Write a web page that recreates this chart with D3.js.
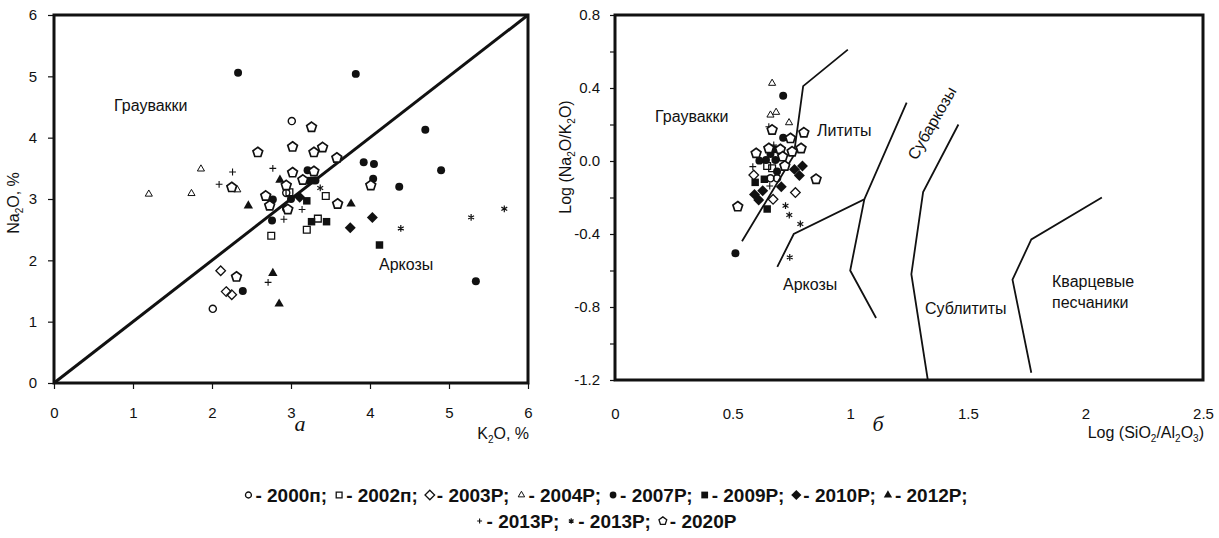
<!DOCTYPE html>
<html lang="ru">
<head>
<meta charset="UTF-8">
<title>Na2O–K2O и Log-диаграммы</title>
<script src="https://d3js.org/d3.v7.min.js"></script>
<style>
  body { margin: 0; background: #fff; }
  svg text { font-family: "Liberation Sans", Arial, sans-serif; fill: #111; }
</style>
</head>
<body>
<svg id="chart" width="1219" height="538"></svg>
<script>
// ---- series names (legend order) ----
const seriesNames = ["2000п", "2002п", "2003Р", "2004Р", "2007Р", "2009Р", "2010Р", "2012Р", "2013Р", "2013Р", "2020Р"];

// ---- panel а: K2O (x), Na2O (y), % ----
const a2000p = [[3.01, 4.27], [2.01, 1.21], [2.94, 3.10], [2.94, 2.84]];
const a2002p = [[2.98, 3.11], [3.44, 3.05], [3.34, 2.68], [3.20, 2.50], [2.75, 2.40]];
const a2003 = [[2.11, 1.83], [2.18, 1.49], [2.25, 1.44]];
const a2004 = [[1.20, 3.08], [1.74, 3.09], [1.86, 3.49], [2.32, 3.15]];
const a2007 = [[2.33, 5.06], [3.82, 5.04], [4.70, 4.13], [3.92, 3.60], [4.05, 3.57], [4.90, 3.47], [3.21, 3.47],
               [4.04, 3.33], [4.37, 3.20], [2.77, 2.99], [3.00, 3.00], [2.76, 2.65], [2.39, 1.50], [5.34, 1.66], [3.31, 3.30]];
const a2009 = [[3.25, 3.30], [3.20, 2.97], [3.26, 2.63], [3.45, 2.63], [4.12, 2.25]];
const a2010 = [[3.11, 3.03], [4.03, 2.70], [3.75, 2.53]];
const a2012 = [[2.86, 3.31], [2.46, 2.89], [3.76, 2.92], [2.77, 1.79], [2.85, 1.29]];
const a2013plus = [[2.26, 3.44], [2.77, 3.50], [2.09, 3.24], [3.14, 2.83], [2.91, 2.67], [2.71, 1.64]];
const a2013star = [[3.37, 3.18], [4.39, 2.52], [5.28, 2.70], [5.70, 2.84]];
const a2020 = [[3.26, 4.17], [2.58, 3.76], [3.02, 3.85], [3.29, 3.76], [3.40, 3.84], [3.58, 3.67], [3.02, 3.43],
               [3.29, 3.45], [3.15, 3.31], [2.94, 3.22], [2.25, 3.19], [2.68, 3.05], [2.73, 2.89], [2.96, 2.83],
               [3.59, 2.92], [4.01, 3.22], [2.31, 1.73]];
const aBoundary = [[0, 0], [6, 6]];

// ---- panel б: Log(SiO2/Al2O3) (x), Log(Na2O/K2O) (y) ----
const b2000p = [[0.661, -0.095], [0.689, -0.095]];
const b2002p = [[0.647, -0.027], [0.668, -0.040]];
const b2003 = [[0.590, -0.077], [0.672, -0.210], [0.767, -0.173]];
const b2004 = [[0.668, 0.426], [0.661, 0.252], [0.685, 0.267], [0.740, 0.210]];
const b2007 = [[0.715, 0.358], [0.715, 0.128], [0.678, 0.064], [0.614, 0.002], [0.642, 0.005], [0.661, 0.038],
               [0.682, 0.005], [0.689, -0.058], [0.512, -0.506]];
const b2009 = [[0.596, -0.117], [0.635, -0.100], [0.647, -0.263]];
const b2010 = [[0.763, -0.046], [0.797, -0.027], [0.784, -0.080], [0.707, -0.141], [0.593, -0.183], [0.628, -0.163], [0.611, -0.214]];
const b2012 = [];
const b2013plus = [[0.654, 0.188], [0.675, 0.088], [0.586, -0.031], [0.658, -0.137]];
const b2013star = [[0.725, -0.245], [0.741, -0.296], [0.788, -0.345], [0.743, -0.528]];
const b2020 = [[0.668, 0.170], [0.746, 0.124], [0.803, 0.155], [0.654, 0.069], [0.703, 0.064], [0.753, 0.051],
               [0.791, 0.069], [0.600, 0.042], [0.713, 0.024], [0.722, -0.027], [0.855, -0.100], [0.522, -0.250]];

// field boundaries
const bLine1 = [[0.54, -0.44], [0.76, 0.03], [0.80, 0.41], [0.99, 0.61]];
const bLine2 = [[0.69, -0.58], [0.76, -0.40], [1.06, -0.21], [1.24, 0.32]];
const bLine3 = [[1.06, -0.21], [1.00, -0.60], [1.11, -0.86]];
const bLine4 = [[1.46, 0.20], [1.31, -0.17], [1.26, -0.62], [1.33, -1.20]];
const bLine5 = [[2.07, -0.20], [1.77, -0.43], [1.69, -0.65], [1.77, -1.16]];

// ---- ticks ----
const xTicksA = [0, 1, 2, 3, 4, 5, 6];
const yTicksA = [0, 1, 2, 3, 4, 5, 6];
const xTicksB = [0, 0.5, 1, 1.5, 2, 2.5];
const xLabelsB = ["0", "0.5", "1", "1.5", "2", "2.5"];
const yTicksB = [-1.2, -1.0, -0.8, -0.6, -0.4, -0.2, 0, 0.2, 0.4, 0.6, 0.8];
const yLabelsB = [-1.2, -0.8, -0.4, 0, 0.4, 0.8];

const seriesA = [a2000p, a2002p, a2003, a2004, a2007, a2009, a2010, a2012, a2013plus, a2013star, a2020];
const seriesB = [b2000p, b2002p, b2003, b2004, b2007, b2009, b2010, b2012, b2013plus, b2013star, b2020];

// ---- custom symbol shapes ----
const symDiamond = { draw(ctx, size) {
  const r = Math.sqrt(size / 2);
  ctx.moveTo(0, -r); ctx.lineTo(r, 0); ctx.lineTo(0, r); ctx.lineTo(-r, 0); ctx.closePath();
} };
const symPentagon = { draw(ctx, size) {
  const r = Math.sqrt(size / 2.378);
  for (let i = 0; i < 5; i++) {
    const a = -Math.PI / 2 + i * 2 * Math.PI / 5;
    if (i) ctx.lineTo(r * Math.cos(a), r * Math.sin(a)); else ctx.moveTo(r * Math.cos(a), r * Math.sin(a));
  }
  ctx.closePath();
} };
const symPlus = { draw(ctx, size) {
  const r = Math.sqrt(size) / 2;
  ctx.moveTo(-r, 0); ctx.lineTo(r, 0); ctx.moveTo(0, -r); ctx.lineTo(0, r);
} };
const symStar = { draw(ctx, size) {
  const r = Math.sqrt(size) / 2;
  for (let i = 0; i < 3; i++) {
    const a = Math.PI / 2 + i * Math.PI / 3;
    ctx.moveTo(r * Math.cos(a), r * Math.sin(a)); ctx.lineTo(-r * Math.cos(a), -r * Math.sin(a));
  }
} };

const markerStyles = [
  { type: d3.symbolCircle, size: 40, fill: "none", sw: 1.4 },
  { type: d3.symbolSquare, size: 46, fill: "none", sw: 1.3 },
  { type: symDiamond, size: 46, fill: "none", sw: 1.3 },
  { type: d3.symbolTriangle, size: 22, fill: "none", sw: 1.0 },
  { type: d3.symbolCircle, size: 50, fill: "#111", sw: 0 },
  { type: d3.symbolSquare, size: 56, fill: "#111", sw: 0 },
  { type: symDiamond, size: 60, fill: "#111", sw: 0 },
  { type: d3.symbolTriangle, size: 38, fill: "#111", sw: 0 },
  { type: symPlus, size: 46, fill: "none", sw: 1.1 },
  { type: symStar, size: 46, fill: "none", sw: 1.2 },
  { type: symPentagon, size: 62, fill: "#fff", sw: 1.7 }
];

const svg = d3.select("#chart");

function drawPanel(x, y, series, lines, lineWidth) {
  const g = svg.append("g");
  const line = d3.line().x(d => x(d[0])).y(d => y(d[1]));
  lines.forEach(l => g.append("path").attr("d", line(l))
    .attr("fill", "none").attr("stroke", "#111").attr("stroke-width", lineWidth));
  series.forEach((pts, i) => {
    const st = markerStyles[i];
    g.selectAll(null).data(pts).enter().append("path")
      .attr("d", d3.symbol(st.type, st.size))
      .attr("transform", d => `translate(${x(d[0])},${y(d[1])})`)
      .attr("fill", st.fill)
      .attr("stroke", st.sw ? "#111" : "none")
      .attr("stroke-width", st.sw);
  });
  const [x0, x1] = x.range(), [y0, y1] = y.range();
  g.append("rect").attr("x", x0).attr("y", y1).attr("width", x1 - x0).attr("height", y0 - y1)
    .attr("fill", "none").attr("stroke", "#111").attr("stroke-width", 3);
  return g;
}

function styleAxis(g) {
  g.select(".domain").remove();
  g.selectAll(".tick line").attr("stroke", "#111").attr("stroke-width", 1.2);
  g.selectAll(".tick text").attr("font-size", 15).attr("fill", "#111")
    .attr("font-family", '"Liberation Sans", Arial, sans-serif');
}

// ---- panel а ----
const xA = d3.scaleLinear().domain([0, 6]).range([54, 528]);
const yA = d3.scaleLinear().domain([0, 6]).range([383, 15]);
drawPanel(xA, yA, seriesA, [aBoundary], 3);

svg.append("g").attr("transform", `translate(0,${yA(0)})`)
  .call(d3.axisBottom(xA).tickValues(xTicksA).tickSize(6).tickPadding(18).tickFormat(d3.format("d")))
  .call(styleAxis);
svg.append("g").attr("transform", `translate(${xA(0)},0)`)
  .call(d3.axisLeft(yA).tickValues(yTicksA).tickSize(6).tickPadding(11).tickFormat(d3.format("d")))
  .call(styleAxis);

// ---- panel б ----
const xB = d3.scaleLinear().domain([0, 2.5]).range([615, 1203]);
const yB = d3.scaleLinear().domain([-1.2, 0.8]).range([380, 15]);
drawPanel(xB, yB, seriesB, [bLine1, bLine2, bLine3, bLine4, bLine5], 1.8);

svg.append("g").attr("transform", `translate(0,${yB(-1.2)})`)
  .call(d3.axisBottom(xB).tickValues(xTicksB).tickSize(0).tickPadding(28)
    .tickFormat((d, i) => xLabelsB[i]))
  .call(styleAxis);
svg.append("g").attr("transform", `translate(${xB(0)},0)`)
  .call(d3.axisLeft(yB).tickValues(yTicksB).tickSize(5).tickPadding(10)
    .tickFormat(d => yLabelsB.some(v => Math.abs(v - d) < 1e-9) ? d.toFixed(1) : ""))
  .call(styleAxis);

// ---- field names ----
const fieldLabels = [
  { text: "Граувакки", x: 114, y: 111 },
  { text: "Аркозы", x: 379, y: 270 },
  { text: "Граувакки", x: 655, y: 122 },
  { text: "Лититы", x: 817, y: 136 },
  { text: "Аркозы", x: 783, y: 290 },
  { text: "Сублититы", x: 925, y: 314 },
  { text: "Кварцевые", x: 1052, y: 287 },
  { text: "песчаники", x: 1052, y: 308 }
];
svg.selectAll(null).data(fieldLabels).enter().append("text")
  .attr("x", d => d.x).attr("y", d => d.y).attr("font-size", 16).text(d => d.text);
svg.append("text").attr("transform", "translate(932,123) rotate(-60)")
  .attr("text-anchor", "middle").attr("dy", "0.35em").attr("font-size", 16).text("Субаркозы");

// ---- axis titles with subscripts ----
function subText(sel, parts) {
  parts.forEach(p => {
    if (p.sub) sel.append("tspan").attr("font-size", 10).attr("dy", 4).text(p.t);
    else sel.append("tspan").attr("dy", p.back ? -4 : 0).text(p.t);
  });
  return sel;
}
subText(svg.append("text").attr("transform", "translate(19,203) rotate(-90)")
  .attr("text-anchor", "middle").attr("font-size", 16),
  [{ t: "Na" }, { t: "2", sub: true }, { t: "O, %", back: true }]);
subText(svg.append("text").attr("x", 529).attr("y", 439).attr("text-anchor", "end").attr("font-size", 16),
  [{ t: "K" }, { t: "2", sub: true }, { t: "O, %", back: true }]);
subText(svg.append("text").attr("transform", "translate(571,157) rotate(-90)")
  .attr("text-anchor", "middle").attr("font-size", 16),
  [{ t: "Log (Na" }, { t: "2", sub: true }, { t: "O/K", back: true }, { t: "2", sub: true }, { t: "O)", back: true }]);
subText(svg.append("text").attr("x", 1204).attr("y", 438).attr("text-anchor", "end").attr("font-size", 16),
  [{ t: "Log (SiO" }, { t: "2", sub: true }, { t: "/Al", back: true }, { t: "2", sub: true }, { t: "O", back: true },
   { t: "3", sub: true }, { t: ")", back: true }]);

// panel captions
svg.selectAll(null).data([{ t: "а", x: 300 }, { t: "б", x: 878 }]).enter().append("text")
  .attr("x", d => d.x).attr("y", 431).attr("text-anchor", "middle")
  .style("font-family", '"Liberation Serif", "Times New Roman", serif')
  .attr("font-style", "italic").attr("font-size", 22).text(d => d.t);

// ---- legend ----
const legendSizes = [28, 34, 46, 18, 36, 46, 52, 30, 24, 30, 40];
const legendRows = [[0, 1, 2, 3, 4, 5, 6, 7], [8, 9, 10]];
const legendBase = [502, 528];
legendRows.forEach((row, r) => {
  const g = svg.append("g");
  let x = 0;
  row.forEach((i, k) => {
    const st = markerStyles[i];
    g.append("path").attr("d", d3.symbol(st.type, legendSizes[i])())
      .attr("transform", `translate(${x + 5},${legendBase[r] - 7})`)
      .attr("fill", st.fill).attr("stroke", st.sw ? "#111" : "none").attr("stroke-width", Math.min(st.sw, 1.3));
    x += 12;
    const last = r === legendRows.length - 1 && k === row.length - 1;
    const t = g.append("text").attr("x", x).attr("y", legendBase[r])
      .attr("font-size", 19).attr("font-weight", "bold")
      .text("- " + seriesNames[i] + (last ? "" : ";"));
    x += t.node().getComputedTextLength() + 7;
  });
  g.attr("transform", `translate(${609 - x / 2},0)`);
});
</script>
</body>
</html>
